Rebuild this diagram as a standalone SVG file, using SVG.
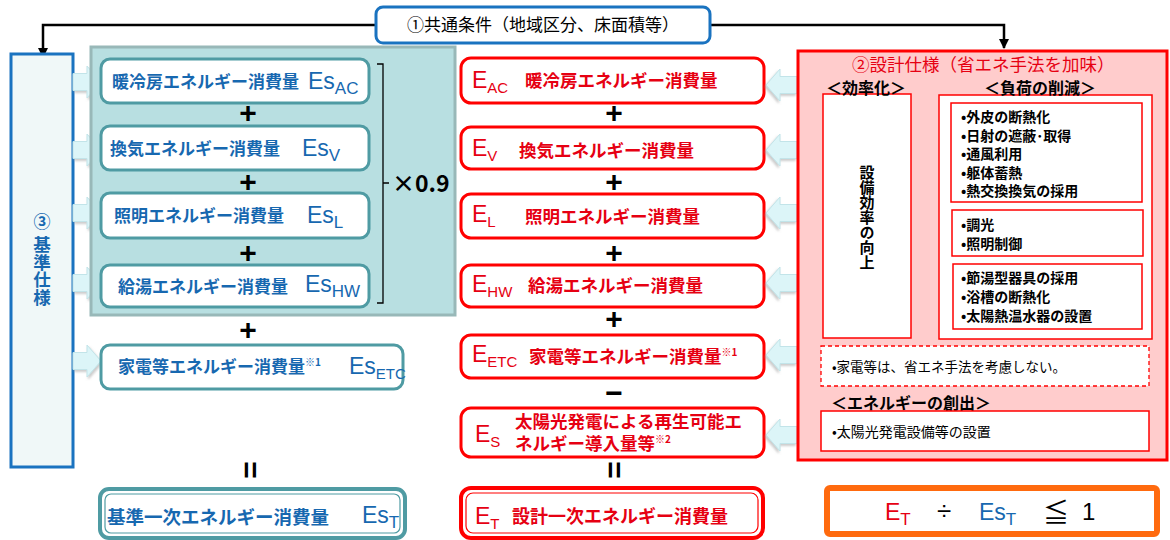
<svg xmlns="http://www.w3.org/2000/svg" width="1170" height="540" viewBox="0 0 1170 540">
<style>
.jp{font-family:"Noto Sans CJK JP","Noto Sans",sans-serif;}
.lat{font-family:"Liberation Sans",Arial,sans-serif;}
.blue{fill:#1768b0;}
.red{fill:#e60012;}
.lbl{font-size:17px;font-weight:bold;}
.rlbl{font-size:17.5px;font-weight:bold;}
.es{font-size:23px;}
.es tspan{font-size:17px;}
.e{font-size:23px;}
.e tspan{font-size:15px;}
.vert{writing-mode:vertical-rl;}
.sym{font-family:"Liberation Sans",Arial,sans-serif;font-size:30px;font-weight:bold;fill:#000;text-anchor:middle;}
.tbox{fill:#fff;stroke:#4f9ba3;stroke-width:3;}
.rbox{fill:#fff;stroke:#ff0000;stroke-width:3;}
.arr{fill:#dcf5f8;stroke:#c2e4e9;stroke-width:1;filter:url(#sh);}
.item{font-size:14px;font-weight:bold;fill:#000;}
.thin{fill:#fff;stroke:#ff0000;stroke-width:1.5;}
.hd{font-size:16px;font-weight:bold;fill:#000;}
.conn{fill:none;stroke:#000;stroke-width:2.5;}
</style>
<defs>
<marker id="ah" viewBox="0 0 10 10" refX="9" refY="5" markerWidth="4" markerHeight="4" orient="auto" markerUnits="strokeWidth">
<path d="M0,0 L10,5 L0,10Z" fill="#000"/>
</marker>
<filter id="sh" x="-20%" y="-20%" width="150%" height="160%">
<feDropShadow dx="1.5" dy="2" stdDeviation="1.2" flood-color="#999" flood-opacity="0.5"/>
</filter>
<path id="arrR" d="M0,-8.5 H14 V-16 L28,0 L14,16 V8.5 H0Z"/>
<path id="arrL" d="M0,-8.5 H17 V-16 L31,0 L17,16 V8.5 H0Z"/>
</defs>
<rect width="1170" height="540" fill="#fff"/>

<g id="connectors">
<path class="conn" d="M376,25 H43 V57" marker-end="url(#ah)"/>
<path class="conn" d="M710,25 H1004 V48" marker-end="url(#ah)"/>
</g>

<g id="common">
<rect x="376" y="7" width="334" height="36" rx="7" fill="#fff" stroke="#1a73c0" stroke-width="3"/>
<text class="jp" x="543" y="31" font-size="17" text-anchor="middle" fill="#000">①共通条件（地域区分、床面積等）</text>
</g>

<g id="base-spec">
<rect x="11" y="54" width="62" height="413" fill="#f0f8f8" stroke="#1a73c0" stroke-width="3"/>
<text class="jp blue" x="42" y="228" font-size="17" font-weight="bold" text-anchor="middle">③</text>
<text class="jp blue vert" x="42" y="236" font-size="17.5" font-weight="bold">基準仕様</text>
</g>

<g id="left-arrows">
<use href="#arrR" class="arr" transform="translate(73,82)"/>
<use href="#arrR" class="arr" transform="translate(73,150)"/>
<use href="#arrR" class="arr" transform="translate(73,213)"/>
<use href="#arrR" class="arr" transform="translate(73,283)"/>
<use href="#arrR" class="arr" transform="translate(73,361)"/>
</g>

<g id="teal-panel">
<rect x="91" y="47" width="364" height="268" fill="#b8dfe1" stroke="#98b8b8" stroke-width="3"/>
</g>

<g id="es-ac">
<rect class="tbox" x="101" y="59" width="268" height="44" rx="9"/>
<text class="jp blue lbl" x="112" y="88">暖冷房エネルギー消費量</text>
<text class="lat blue es" x="308" y="89">Es<tspan dy="5">AC</tspan></text>
</g>
<text class="sym" x="248" y="123">+</text>
<g id="es-v">
<rect class="tbox" x="101" y="126" width="268" height="44" rx="9"/>
<text class="jp blue lbl" x="110" y="155">換気エネルギー消費量</text>
<text class="lat blue es" x="302" y="156">Es<tspan dy="5">V</tspan></text>
</g>
<text class="sym" x="248" y="192">+</text>
<g id="es-l">
<rect class="tbox" x="101" y="193" width="268" height="45" rx="9"/>
<text class="jp blue lbl" x="114" y="222">照明エネルギー消費量</text>
<text class="lat blue es" x="307" y="223">Es<tspan dy="5">L</tspan></text>
</g>
<text class="sym" x="248" y="263">+</text>
<g id="es-hw">
<rect class="tbox" x="101" y="265" width="268" height="42" rx="9"/>
<text class="jp blue lbl" x="118" y="293">給湯エネルギー消費量</text>
<text class="lat blue es" x="305" y="292">Es<tspan dy="5">HW</tspan></text>
</g>

<g id="factor">
<path d="M377,64 H383 V303 H377 M383,183 H389" fill="none" stroke="#000" stroke-width="1.3"/>
<text class="jp" x="392" y="192" font-size="23" font-weight="bold" fill="#000">×0.9</text>
</g>

<text class="sym" x="248" y="340">+</text>
<g id="es-etc">
<rect class="tbox" x="101" y="345" width="302" height="44" rx="9"/>
<text class="jp blue lbl" x="118" y="373">家電等エネルギー消費量<tspan font-size="10" dy="-7">※1</tspan></text>
<text class="lat blue es" x="349" y="374">Es<tspan dy="5" style="font-size:15px">ETC</tspan></text>
</g>

<text class="sym" transform="translate(250,470) rotate(90)" x="0" y="10">=</text>

<g id="es-t">
<rect x="100" y="489" width="305" height="49" rx="9" fill="#fff" stroke="#4f9ba3" stroke-width="4"/>
<rect x="105" y="494" width="295" height="39" rx="6" fill="none" stroke="#4f9ba3" stroke-width="1.2"/>
<text class="jp blue" x="107" y="524" font-size="18.5" font-weight="bold">基準一次エネルギー消費量</text>
<text class="lat blue es" x="362" y="523">Es<tspan dy="5">T</tspan></text>
</g>

<g id="e-ac">
<rect class="rbox" x="461" y="58" width="303" height="45" rx="10"/>
<text class="lat red e" x="472" y="88">E<tspan dy="5">AC</tspan></text>
<text class="jp red rlbl" x="525" y="87">暖冷房エネルギー消費量</text>
</g>
<text class="sym" x="614" y="123">+</text>
<g id="e-v">
<rect class="rbox" x="461" y="127" width="303" height="42" rx="10"/>
<text class="lat red e" x="472" y="156">E<tspan dy="5">V</tspan></text>
<text class="jp red rlbl" x="519" y="157">換気エネルギー消費量</text>
</g>
<text class="sym" x="614" y="192">+</text>
<g id="e-l">
<rect class="rbox" x="461" y="194" width="303" height="44" rx="10"/>
<text class="lat red e" x="472" y="222">E<tspan dy="5">L</tspan></text>
<text class="jp red rlbl" x="525" y="223">照明エネルギー消費量</text>
</g>
<text class="sym" x="614" y="263">+</text>
<g id="e-hw">
<rect class="rbox" x="461" y="265" width="303" height="42" rx="10"/>
<text class="lat red e" x="472" y="292">E<tspan dy="5">HW</tspan></text>
<text class="jp red rlbl" x="528" y="292">給湯エネルギー消費量</text>
</g>
<text class="sym" x="614" y="329">+</text>
<g id="e-etc">
<rect class="rbox" x="461" y="335" width="303" height="43" rx="10"/>
<text class="lat red e" x="472" y="362">E<tspan dy="5">ETC</tspan></text>
<text class="jp red rlbl" x="529" y="363">家電等エネルギー消費量<tspan font-size="10" dy="-7">※1</tspan></text>
</g>
<text class="sym" x="614" y="403">−</text>
<g id="e-s">
<rect class="rbox" x="461" y="408" width="303" height="49" rx="10"/>
<text class="lat red e" x="475" y="442">E<tspan dy="5">S</tspan></text>
<text class="jp red rlbl" x="515" y="428">太陽光発電による再生可能エ</text>
<text class="jp red rlbl" x="515" y="450">ネルギー導入量等<tspan font-size="10" dy="-7">※2</tspan></text>
</g>
<text class="sym" transform="translate(614,470) rotate(90)" x="0" y="10">=</text>
<g id="e-t">
<rect x="461" y="488" width="302" height="50" rx="10" fill="#fff" stroke="#ff0000" stroke-width="4"/>
<rect x="466" y="493" width="292" height="40" rx="7" fill="none" stroke="#ff0000" stroke-width="1.2"/>
<text class="lat red e" x="475" y="524">E<tspan dy="5">T</tspan></text>
<text class="jp red" x="512" y="523" font-size="18" font-weight="bold">設計一次エネルギー消費量</text>
</g>

<g id="right-arrows">
<use href="#arrL" class="arr" transform="translate(797,85) scale(-1,1)"/>
<use href="#arrL" class="arr" transform="translate(797,150) scale(-1,1)"/>
<use href="#arrL" class="arr" transform="translate(797,213) scale(-1,1)"/>
<use href="#arrL" class="arr" transform="translate(797,283) scale(-1,1)"/>
<use href="#arrL" class="arr" transform="translate(797,355) scale(-1,1)"/>
<use href="#arrL" class="arr" transform="translate(797,435) scale(-1,1)"/>
</g>

<g id="design-spec">
<rect x="798" y="51" width="369" height="409" fill="#ffcccc" stroke="#ff0000" stroke-width="3"/>
<text class="jp" x="852" y="71" font-size="17.5" fill="#e60012">②設計仕様（省エネ手法を加味）</text>
</g>

<g id="efficiency">
<rect class="thin" x="823" y="94" width="88" height="244"/>
<text class="jp vert" x="867" y="165" font-size="15" font-weight="bold" fill="#000">設備効率の向上</text>
</g>

<g id="load-reduction">
<rect class="thin" x="939" y="95" width="213" height="244"/>
<rect class="thin" x="951" y="103" width="191" height="99"/>
<text class="jp item">
<tspan x="961" y="122">•外皮の断熱化</tspan>
<tspan x="961" y="141">•日射の遮蔽･取得</tspan>
<tspan x="961" y="159">•通風利用</tspan>
<tspan x="961" y="178">•躯体蓄熱</tspan>
<tspan x="961" y="196">•熱交換換気の採用</tspan>
</text>
<rect class="thin" x="952" y="210" width="191" height="46"/>
<text class="jp item">
<tspan x="961" y="230">•調光</tspan>
<tspan x="961" y="249">•照明制御</tspan>
</text>
<rect class="thin" x="953" y="264" width="189" height="65"/>
<text class="jp item">
<tspan x="961" y="283">•節湯型器具の採用</tspan>
<tspan x="961" y="302">•浴槽の断熱化</tspan>
<tspan x="961" y="321">•太陽熱温水器の設置</tspan>
</text>
</g>

<g id="headings">
<text class="jp hd" x="826" y="94">＜効率化＞</text>
<text class="jp hd" x="984" y="94">＜負荷の削減＞</text>
</g>

<g id="appliance-note">
<rect x="821" y="346" width="328" height="40" fill="#fff" stroke="#ff0000" stroke-width="1.3" stroke-dasharray="4,3"/>
<text class="jp" x="832" y="372" font-size="13.5" fill="#000">•家電等は、省エネ手法を考慮しない。</text>
</g>

<g id="creation">
<text class="jp hd" x="831" y="409">＜エネルギーの創出＞</text>
<rect class="thin" x="821" y="411" width="328" height="40"/>
<text class="jp" x="832" y="437" font-size="14" fill="#000">•太陽光発電設備等の設置</text>
</g>

<g id="formula">
<rect x="827" y="488" width="330" height="46" rx="3" fill="#fff" stroke="#ff6a0e" stroke-width="6"/>
<text class="lat red e" x="885" y="520">E<tspan dy="5" style="font-size:17px">T</tspan></text>
<text class="lat" x="937" y="520" font-size="26" fill="#000">÷</text>
<text class="lat blue es" x="979" y="520">Es<tspan dy="5">T</tspan></text>
<text class="jp" x="1043" y="522" font-size="26" fill="#000">≦</text>
<text class="lat" x="1082" y="520" font-size="24" fill="#000">1</text>
</g>
</svg>
